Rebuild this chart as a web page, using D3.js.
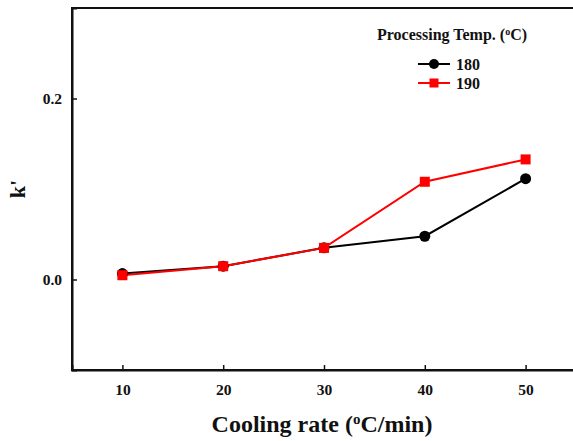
<!DOCTYPE html>
<html>
<head>
<meta charset="utf-8">
<script src="https://cdn.jsdelivr.net/npm/d3@7"></script>
<style>
  body { margin: 0; background: #fff; }
  svg text { font-family: "Liberation Serif", "Times New Roman", serif; font-weight: bold; fill: #111; }
</style>
</head>
<body>
<svg id="chart" width="573" height="441"></svg>
<script>
// chart data
const coolingRates = [10, 20, 30, 40, 50];
const k180 = [0.0066, 0.0147, 0.035, 0.0478, 0.1114];
const k190 = [0.0047, 0.0147, 0.0349, 0.108, 0.1327];
const xTicks = [10, 20, 30, 40, 50];
const yTicks = [0.0, 0.2];
const seriesNames = ["180", "190"];

const svg = d3.select("#chart");
const margin = { top: 8, right: -3, bottom: 71, left: 72 };
const width = 573, height = 441;

const x = d3.scaleLinear().domain([5, 55]).range([margin.left, width - margin.right]);
const y = d3.scaleLinear().domain([-0.1, 0.3]).range([height - margin.bottom, margin.top]);

// frame
svg.append("rect")
    .attr("x", x(5)).attr("y", y(0.3))
    .attr("width", x(55) - x(5)).attr("height", y(-0.1) - y(0.3))
    .attr("fill", "none").attr("stroke", "#111").attr("stroke-width", 2);

// axes, ticks pointing inward
const xAxis = svg.append("g")
    .attr("transform", `translate(0,${y(-0.1)})`)
    .call(d3.axisBottom(x).tickValues(xTicks).tickSize(-5).tickPadding(14));
const yAxis = svg.append("g")
    .attr("transform", `translate(${x(5)},0)`)
    .call(d3.axisLeft(y).tickValues(yTicks).tickFormat(d3.format(".1f")).tickSize(-5).tickPadding(10));

[xAxis, yAxis].forEach(g => {
    g.select(".domain").attr("stroke", "#111").attr("stroke-width", 2);
    g.selectAll(".tick line").attr("stroke", "#111").attr("stroke-width", 1.5);
    g.selectAll(".tick text").attr("font-size", 15.5).attr("font-family", null);
});

// axis titles
const xTitle = svg.append("text")
    .attr("x", 322).attr("y", 432)
    .attr("text-anchor", "middle").attr("font-size", 24)
    .text("Cooling rate (");
xTitle.append("tspan").attr("baseline-shift", "super").attr("font-size", 15).text("o");
xTitle.append("tspan").text("C/min)");

svg.append("text")
    .attr("transform", "translate(25,189) rotate(-90)")
    .attr("text-anchor", "middle").attr("font-size", 22)
    .text("k'");

// lines and markers
const line = d3.line().x((d, i) => x(coolingRates[i])).y(d => y(d));

svg.append("path").datum(k180)
    .attr("d", line).attr("fill", "none").attr("stroke", "#000").attr("stroke-width", 2);
svg.append("path").datum(k190)
    .attr("d", line).attr("fill", "none").attr("stroke", "#f00").attr("stroke-width", 2);

svg.append("g").selectAll("circle")
    .data(k180)
    .join("circle")
    .attr("cx", (d, i) => x(coolingRates[i]))
    .attr("cy", d => y(d))
    .attr("r", 5.5)
    .attr("fill", "#000");

svg.append("g").selectAll("rect")
    .data(k190)
    .join("rect")
    .attr("x", (d, i) => x(coolingRates[i]) - 5)
    .attr("y", d => y(d) - 5)
    .attr("width", 10).attr("height", 10)
    .attr("fill", "#f00");

// legend
const legend = svg.append("g");
const titleText = legend.append("text")
    .attr("x", 377).attr("y", 40).attr("font-size", 16)
    .text("Processing Temp. (");
titleText.append("tspan").attr("baseline-shift", "super").attr("font-size", 10).text("o");
titleText.append("tspan").text("C)");

const legendColors = ["#000", "#f00"];
seriesNames.forEach((name, i) => {
    const ly = 64 + i * 19;
    legend.append("line")
        .attr("x1", 418).attr("x2", 450).attr("y1", ly).attr("y2", ly)
        .attr("stroke", legendColors[i]).attr("stroke-width", 2);
    if (i === 0) {
        legend.append("circle").attr("cx", 434).attr("cy", ly).attr("r", 5).attr("fill", legendColors[i]);
    } else {
        legend.append("rect").attr("x", 429.5).attr("y", ly - 4.5).attr("width", 9).attr("height", 9).attr("fill", legendColors[i]);
    }
    legend.append("text")
        .attr("x", 456).attr("y", ly + 5.5).attr("font-size", 16)
        .text(name);
});
</script>
</body>
</html>
